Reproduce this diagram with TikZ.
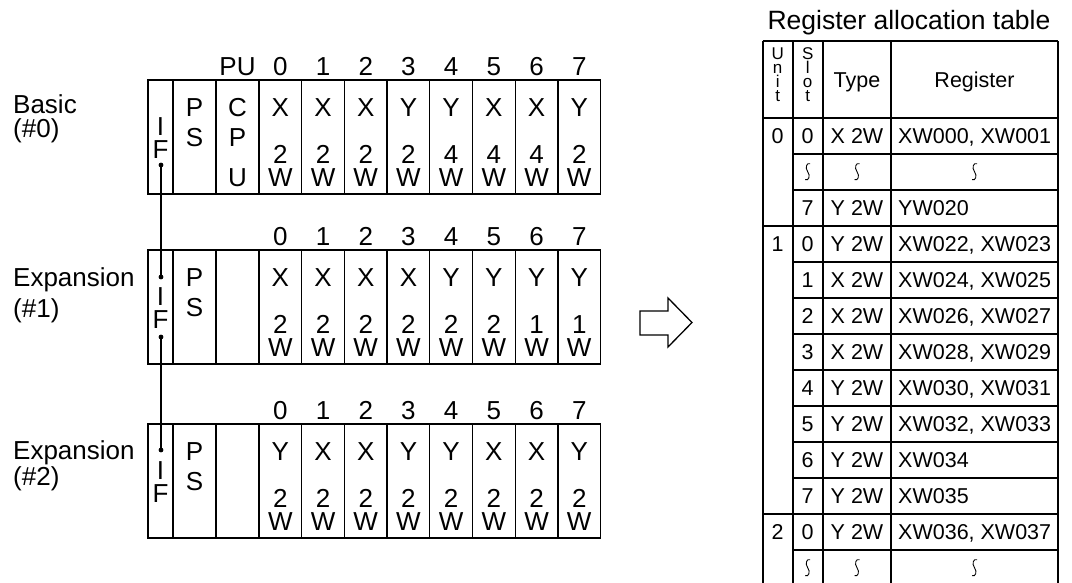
\documentclass[tikz,border=0pt]{standalone}
\usepackage{fontspec}
\setmainfont{Liberation Sans}
\begin{document}
\begin{tikzpicture}[x=1pt,y=-1pt,
  rackbox/.style={draw, line width=1.3pt, minimum width=452.6pt, minimum height=114pt, inner sep=0pt},
  rackline/.style={line width=1.3pt},
  tline/.style={line width=1.6pt},
  big/.style={font=\fontsize{26}{26}\selectfont, inner sep=0pt, anchor=base},
  tab/.style={font=\fontsize{21.5}{21.5}\selectfont, inner sep=0pt, anchor=base},
  vlet/.style={font=\fontsize{17}{14}\selectfont, inner sep=0pt, align=center, anchor=north},
  dotn/.style={circle, fill, inner sep=0pt, minimum size=4.8pt},
  squig/.pic={\draw[line width=0.9pt] (2.5,-8) .. controls (-1,-9.5) and (-3,-4) .. (0,0) .. controls (3,4) and (1,9.5) .. (-2.5,8);}
]
\useasboundingbox (0,0) rectangle (1072,582);

% ---------------- racks ----------------
\foreach \T/\n in {80/1,250/2,424/3}{
  \node[rackbox] (rack\n) at (374.3,\T+57) {};
  \foreach \x in {173,216,259,301.7,344.4,387.1,429.8,472.5,515.2,557.9}
    \draw[rackline] (\x,\T) -- (\x,\T+114);
  \foreach \i in {0,...,7}
    \node[big] (num\n\i) at (280.35+\i*42.7,\T-4.7) {\i};
  \node[big] (psP\n) at (194.5,\T+36.5) {P};
  \node[big] (psS\n) at (194.5,\T+66.5) {S};
}
\node[big] (pu) at (237.5,75.3) {PU};
\node[big] (cpuC) at (237.5,116.5) {C};
\node[big] (cpuP) at (237.5,146.5) {P};
\node[big] (cpuU) at (237.5,186.8) {U};

% slot contents
\foreach \t/\s [count=\i from 0] in {X/2,X/2,X/2,Y/2,Y/4,X/4,X/4,Y/2}{
  \node[big] (ta\i) at (280.35+\i*42.7,116.5) {\t};
  \node[big] (sa\i) at (280.35+\i*42.7,163.5) {\s};
  \node[big] (wa\i) at (280.35+\i*42.7,186.8) {W};
}
\foreach \t/\s [count=\i from 0] in {X/2,X/2,X/2,X/2,Y/2,Y/2,Y/1,Y/1}{
  \node[big] (tb\i) at (280.35+\i*42.7,286.5) {\t};
  \node[big] (sb\i) at (280.35+\i*42.7,333.5) {\s};
  \node[big] (wb\i) at (280.35+\i*42.7,356.8) {W};
}
\foreach \t/\s [count=\i from 0] in {Y/2,X/2,X/2,Y/2,Y/2,X/2,X/2,Y/2}{
  \node[big] (tc\i) at (280.35+\i*42.7,460.5) {\t};
  \node[big] (sc\i) at (280.35+\i*42.7,507.5) {\s};
  \node[big] (wc\i) at (280.35+\i*42.7,530.8) {W};
}

% IF column
\node[big] (if1I) at (160.5,135.3) {I};
\node[big] (if1F) at (160.5,158.3) {F};
\node[big] (if2I) at (160.5,305.3) {I};
\node[big] (if2F) at (160.5,328.3) {F};
\node[big] (if3I) at (160.5,479.3) {I};
\node[big] (if3F) at (160.5,502.3) {F};
\node[dotn] (d1b) at (161,165) {};
\node[dotn] (d2t) at (161,277) {};
\node[dotn] (d2b) at (161,337) {};
\node[dotn] (d3t) at (161,450) {};
\draw[line width=1.3pt] (d1b.center) -- (d2t.center);
\draw[line width=1.3pt] (d2b.center) -- (d3t.center);

% left labels
\node[big, anchor=base west] (lb0a) at (13,113.3) {Basic};
\node[big, anchor=base west] (lb0b) at (13,137.8) {(\#0)};
\node[big, anchor=base west] (lb1a) at (13,286.3) {Expansion};
\node[big, anchor=base west] (lb1b) at (13,317.3) {(\#1)};
\node[big, anchor=base west] (lb2a) at (13,459.3) {Expansion};
\node[big, anchor=base west] (lb2b) at (13,485.3) {(\#2)};

% hollow arrow
\draw[line width=1.3pt, line join=miter] (640,311) -- (668,311) -- (668,298) -- (692,322.5) -- (668,347) -- (668,335) -- (640,335) -- cycle;

% ---------------- table ----------------
\node[font=\fontsize{26.5}{26.5}\selectfont, inner sep=0pt, anchor=base] (title) at (909,29.5) {Register allocation table};
\foreach \x in {762.7,792.7,822.7,891,1058}
  \draw[tline] (\x,41) -- (\x,592);
\draw[tline] (762.7,41) -- (1058,41);
\draw[tline] (762.7,117.7) -- (1058,117.7);
\foreach \k in {1,...,12}
  \draw[tline] (792.7,117.7+36*\k) -- (1058,117.7+36*\k);
\draw[tline] (762.7,225.7) -- (792.7,225.7);
\draw[tline] (762.7,513.7) -- (792.7,513.7);

\node[vlet] (hU) at (777.7,47.5) {U\\n\\i\\t};
\node[vlet] (hS) at (807.7,47) {S\\l\\o\\t};
\node[tab] (hT) at (857,87.2) {Type};
\node[tab] (hR) at (974.5,87.2) {Register};

\node[tab] (u0) at (777.7,143.4) {0};
\node[tab] (u1) at (777.7,251.4) {1};
\node[tab] (u2) at (777.7,539.4) {2};

\foreach \k/\s/\ty/\reg in {0/0/X 2W/{XW000, XW001},2/7/Y 2W/YW020,3/0/Y 2W/{XW022, XW023},4/1/X 2W/{XW024, XW025},5/2/X 2W/{XW026, XW027},6/3/X 2W/{XW028, XW029},7/4/Y 2W/{XW030, XW031},8/5/Y 2W/{XW032, XW033},9/6/Y 2W/XW034,10/7/Y 2W/XW035,11/0/Y 2W/{XW036, XW037}}{
  \node[tab] (rs\k) at (807.7,143.4+36*\k) {\s};
  \node[tab] (rt\k) at (857,143.4+36*\k) {\ty};
  \node[tab, anchor=base west] (rr\k) at (898,143.4+36*\k) {\reg};
}
\foreach \y in {171.7,567.7}{
  \pic at (807.7,\y) {squig};
  \pic at (857,\y) {squig};
  \pic at (974.5,\y) {squig};
}
\end{tikzpicture}
\end{document}
